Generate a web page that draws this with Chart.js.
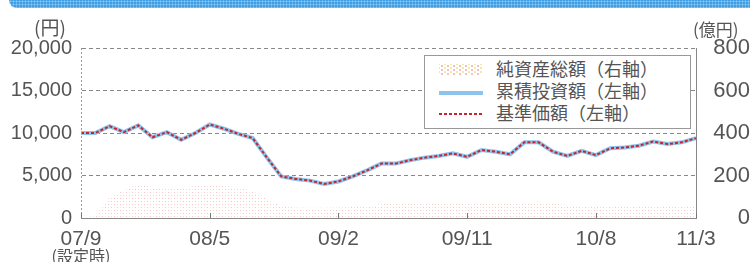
<!DOCTYPE html>
<html>
<head>
<meta charset="utf-8">
<script src="https://cdn.jsdelivr.net/npm/chart.js@4/dist/chart.umd.min.js"></script>
<style>
  html, body { margin:0; padding:0; background:#fff; }
  #wrap { position:relative; width:750px; height:262px; overflow:hidden; font-family:"Noto Sans CJK JP","DejaVu Sans",sans-serif; color:#555; }
  #banner { position:absolute; left:9px; top:0; width:745px; height:8px; border-bottom-left-radius:9px;
    background-color:#3f9fe2;
    background-image: radial-gradient(circle, #8fcaf5 0.8px, transparent 1.2px);
    background-size:3px 3px; }
  canvas { position:absolute; left:0; top:0; }
  .lbl { position:absolute; white-space:nowrap; line-height:1; }
  #legend { position:absolute; left:424px; top:55px; width:265px; height:72px; border:1px solid #999; background:#fff; }
  .row { position:absolute; left:0; height:22px; width:100%; }
  .row span { position:absolute; left:71px; top:1px; font-size:18px; line-height:1; color:#555; }
  .sw { position:absolute; left:14px; width:44px; }
</style>
</head>
<body>
<div id="wrap">
  <div id="banner"></div>
  <canvas id="c" width="750" height="262"></canvas>
  <div class="lbl" style="left:34px;top:17px;font-size:19px;">(円)</div>
  <div class="lbl" style="left:693px;top:20px;font-size:17px;">(億円)</div>
  <div class="lbl" style="left:81px;top:247px;font-size:16px;transform:translateX(-50%);">(設定時)</div>
  <div id="legend">
    <div class="row" style="top:2px;"><div class="sw" style="top:6px;height:11px;background-image:radial-gradient(circle,#f2c0c0 0.9px,transparent 1.3px),radial-gradient(circle,#f3e9a4 0.9px,transparent 1.3px);background-size:6px 4px,6px 4px;background-position:0 0,3px 2px;"></div><span>純資産総額（右軸）</span></div>
    <div class="row" style="top:24px;"><div class="sw" style="top:11px;height:4px;background:#8dc4ee;"></div><span>累積投資額（左軸）</span></div>
    <div class="row" style="top:46px;"><div class="sw" style="top:11px;height:2px;background:repeating-linear-gradient(90deg,#c3262c 0 3px,transparent 3px 5px);"></div><span>基準価額（左軸）</span></div>
  </div>
</div>
<script>
// ---- data (monthly points, index 0 = 07/9 setup) ----
const tickIndex = [0, 9, 18, 27, 36, 43];
const tickText = ['07/9', '08/5', '09/2', '09/11', '10/8', '11/3'];
const leftTicks = [0, 5000, 10000, 15000, 20000];
const rightTicks = [0, 200, 400, 600, 800];

const netAssets = [0, 10, 100, 130, 160, 145, 140, 145, 150, 160, 150, 145, 130, 90, 55,
  50, 48, 48, 50, 52, 58, 65, 70, 70, 70, 72, 72, 70, 72, 72,
  70, 72, 78, 70, 60, 55, 55, 55, 55, 55, 55, 55, 55, 55];
const cumInvest = [10000, 10000, 10800, 10100, 10900, 9500, 10100, 9200, 10000, 11000, 10500, 9900, 9400, 7100, 4900,
  4600, 4400, 4000, 4300, 4900, 5600, 6400, 6400, 6800, 7100, 7300, 7600, 7200, 8000, 7800,
  7500, 8900, 8900, 7800, 7300, 7900, 7400, 8200, 8300, 8500, 9000, 8700, 8900, 9400];
const basePrice = [10000, 10000, 10800, 10100, 10900, 9500, 10100, 9200, 10000, 11000, 10500, 9900, 9400, 7100, 4900,
  4600, 4400, 4000, 4300, 4900, 5600, 6400, 6400, 6800, 7100, 7300, 7600, 7200, 8000, 7800,
  7500, 8900, 8900, 7800, 7300, 7900, 7400, 8200, 8300, 8500, 9000, 8700, 8900, 9400];

const toXY = arr => arr.map((v, i) => ({x: i, y: v}));

// dotted fill pattern
function makePattern() {
  const p = document.createElement('canvas');
  p.width = 6; p.height = 6;
  const g = p.getContext('2d');
  g.fillStyle = '#f3c6c6'; g.fillRect(0,0,1,1);
  g.fillStyle = '#f5eaa6'; g.fillRect(3,0,1,1);
  g.fillStyle = '#f5eaa6'; g.fillRect(0,3,1,1);
  g.fillStyle = '#d8d0d0'; g.fillRect(3,3,1,1);
  return document.getElementById('c').getContext('2d').createPattern(p, 'repeat');
}

const fontNum = {family: '"Liberation Sans","DejaVu Sans",sans-serif', size: 20};

const extras = {
  id: 'extras',
  afterDatasetsDraw(chart) {
    const {ctx, chartArea: a, scales} = chart;
    ctx.save();
    // dotted left border
    ctx.strokeStyle = '#999'; ctx.lineWidth = 1; ctx.setLineDash([2, 2]);
    ctx.beginPath(); ctx.moveTo(a.left + 0.5, a.top); ctx.lineTo(a.left + 0.5, a.bottom); ctx.stroke();
    ctx.setLineDash([]);
    // inner ticks on x axis
    ctx.strokeStyle = '#777';
    tickIndex.forEach(v => {
      const x = Math.round(scales.x.getPixelForValue(v)) + 0.5;
      ctx.beginPath(); ctx.moveTo(x, a.bottom); ctx.lineTo(x, a.bottom - 5); ctx.stroke();
    });
    ctx.restore();
  }
};

new Chart(document.getElementById('c'), {
  type: 'line',
  data: {
    datasets: [
      {label: '基準価額（左軸）', data: toXY(basePrice), yAxisID: 'y', borderColor: '#c3262c', borderWidth: 2, borderDash: [3, 2], pointRadius: 0, fill: false, order: 1},
      {label: '累積投資額（左軸）', data: toXY(cumInvest), yAxisID: 'y', borderColor: '#8dc4ee', borderWidth: 4, pointRadius: 0, fill: false, order: 2},
      {label: '純資産総額（右軸）', data: toXY(netAssets), yAxisID: 'y1', borderWidth: 0, borderColor: 'rgba(0,0,0,0)', backgroundColor: makePattern(), pointRadius: 0, fill: 'origin', order: 3}
    ]
  },
  options: {
    responsive: false,
    animation: false,
    layout: {padding: {top: 48, left: 0, right: 0, bottom: 0}},
    plugins: {legend: {display: false}, tooltip: {enabled: false}},
    scales: {
      x: {
        type: 'linear', min: 0, max: 43,
        afterBuildTicks: s => { s.ticks = tickIndex.map(v => ({value: v})); },
        afterFit: s => { s.height = 44; },
        grid: {display: false, drawTicks: false},
        border: {display: true, color: '#888', width: 1},
        ticks: {color: '#555', font: {family: fontNum.family, size: 21}, padding: 9, maxRotation: 0, autoSkip: false,
          callback: v => tickText[tickIndex.indexOf(v)]}
      },
      y: {
        position: 'left', min: 0, max: 20000,
        afterBuildTicks: s => { s.ticks = leftTicks.map(v => ({value: v})); },
        afterFit: s => { s.width = 81; },
        grid: {drawTicks: false, color: c => c.tick && c.tick.value === 0 ? 'rgba(0,0,0,0)' : '#888', lineWidth: 1},
        border: {display: true, color: 'rgba(0,0,0,0)', dash: [4, 3]},
        ticks: {color: '#555', font: fontNum, padding: 9, callback: v => v.toLocaleString('en-US')}
      },
      y1: {
        position: 'right', min: 0, max: 800,
        afterBuildTicks: s => { s.ticks = rightTicks.map(v => ({value: v})); },
        afterFit: s => { s.width = 54; },
        grid: {display: false, drawTicks: false},
        border: {display: true, color: '#888', width: 1},
        ticks: {color: '#555', font: {family: fontNum.family, size: 22}, padding: 9, crossAlign: 'far', callback: v => String(v)}
      }
    }
  },
  plugins: [extras]
});
</script>
</body>
</html>
